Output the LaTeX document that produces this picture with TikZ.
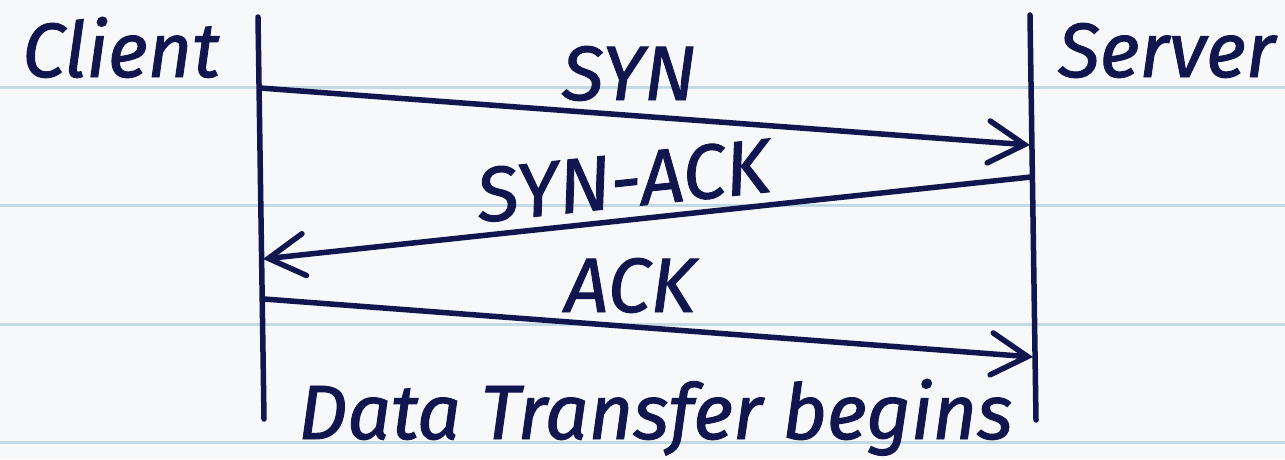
\documentclass[tikz,border=0pt]{standalone}
\usepackage{fontspec}
\setmainfont{Fira Sans}[ItalicFeatures={FakeBold=1.2}]
\usetikzlibrary{arrows.meta}
\definecolor{ink}{HTML}{11164E}
\definecolor{paper}{HTML}{F7F8F9}
\definecolor{ruling}{HTML}{C3DAE5}
\tikzset{
  lifeline/.style={draw=ink, line width=5.5pt, line cap=round},
  msg/.style={draw=ink, line width=5.5pt, line cap=round,
    -{Straight Barb[length=36pt, width=42pt, line cap=round]}},
  lbl/.style={text=ink, inner sep=0pt, font=\itshape\fontsize{77}{77}\selectfont},
  ruleline/.style={draw=ruling, line width=3pt},
}
\begin{document}
\begin{tikzpicture}[x=1pt, y=-1pt]
  % notebook paper
  \fill[paper] (0,0) rectangle (1285,459);
  \useasboundingbox (0,0) rectangle (1285,459);
  \foreach \yy in {87,205,324,442}
    \draw[ruleline] (0,\yy) -- (1285,\yy);

  % participants
  \node[lbl, anchor=base west] (client) at (22,77) {Client};
  \node[lbl, anchor=base west] (server) at (1058,77) {Server};

  % lifelines
  \coordinate (ctop) at (258,17);
  \coordinate (cbot) at (264,419);
  \coordinate (stop) at (1030,15);
  \coordinate (sbot) at (1036,420);
  \draw[lifeline] (ctop) -- (cbot);
  \draw[lifeline] (stop) -- (sbot);

  % message end points on the lifelines
  \coordinate (syn-a) at (260,88);
  \coordinate (syn-b) at (1030,145);
  \coordinate (synack-a) at (1031,177);
  \coordinate (synack-b) at (263,259);
  \coordinate (ack-a) at (264,299);
  \coordinate (ack-b) at (1033,357);

  % handshake
  \draw[msg] (syn-a) -- (syn-b);
  \draw[msg] (synack-a) -- (synack-b);
  \draw[msg] (ack-a) -- (ack-b);

  % message labels
  \node[lbl, anchor=base] (synlbl) at (629,100) {SYN};
  \node[lbl, anchor=base, rotate=6] (synacklbl) at (626,207) {SYN-ACK};
  \node[lbl, anchor=base] (acklbl) at (630,312) {ACK};
  \node[lbl, anchor=base west] (data) at (298,439) {Data Transfer begins};
\end{tikzpicture}
\end{document}
